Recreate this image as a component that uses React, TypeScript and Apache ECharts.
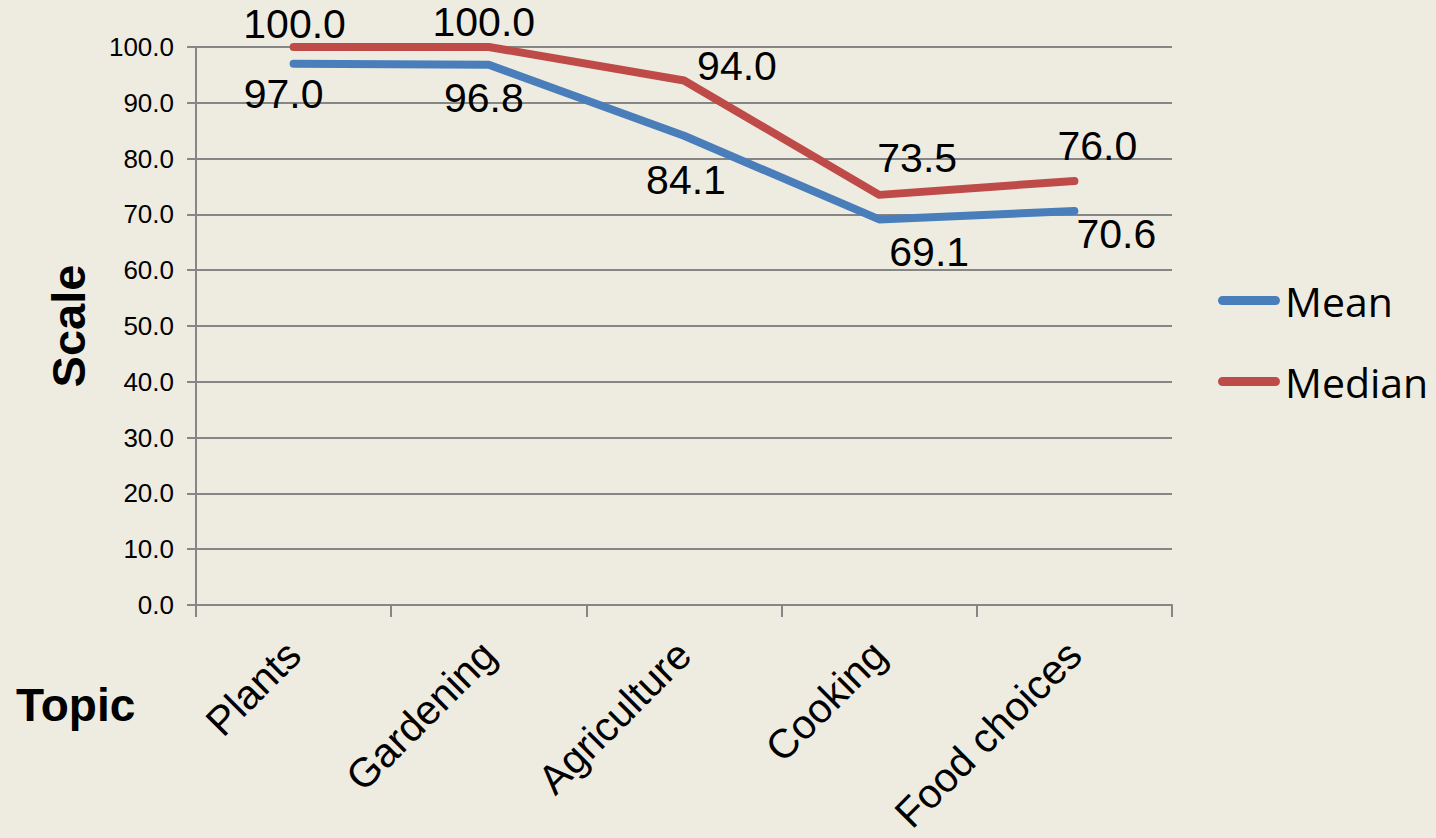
import React, { useEffect, useRef } from "react";
import * as echarts from "echarts";

const categories = ["Plants", "Gardening", "Agriculture", "Cooking", "Food choices"];
const meanValues = [97.0, 96.8, 84.1, 69.1, 70.6];
const medianValues = [100.0, 100.0, 94.0, 73.5, 76.0];

// label placement (pixel offsets from each point), kept apart from the values
const meanLabelOffsets = [[-10, 30], [-5, 33], [2, 44], [50, 33], [42, 23]];
const medianLabelOffsets = [[1, -23], [-5, -25], [53, -14], [38, -37], [23, -35]];

const BG = "#EEECE1";
const BLUE = "#4A7EBB";
const RED = "#BE4B48";
const GRID = "#868686";
const FONT = "'Liberation Sans', Arial, sans-serif";

function buildData(values: number[], offsets: number[][]) {
  return values.map((v, i) => ({
    value: v,
    label: { offset: offsets[i] },
  }));
}

export default function App() {
  const ref = useRef<HTMLDivElement>(null);
  useEffect(() => {
    if (!ref.current) return;
    const chart = echarts.init(ref.current, null, { renderer: "svg" });
    const pill = "path://M4,0 L58,0 A4.5,4.5 0 0 1 58,9 L4,9 A4.5,4.5 0 0 1 4,0 Z";
    chart.setOption({
      animation: false,
      backgroundColor: BG,
      textStyle: { fontFamily: FONT },
      grid: {
        left: 196,
        right: 264,
        top: 47,
        bottom: 233,
        outerBoundsMode: "none",
      },
      legend: {
        orient: "vertical",
        left: 1213,
        top: 275,
        itemWidth: 62,
        itemHeight: 9,
        itemGap: 40,
        selectedMode: false,
        textStyle: { fontSize: 41, lineHeight: 40, color: "#000", fontFamily: "'Open Sans', sans-serif" },
        data: [
          { name: "Mean", icon: pill, itemStyle: { color: BLUE } },
          { name: "Median", icon: pill, itemStyle: { color: RED } },
        ],
      },
      graphic: [
        {
          type: "text",
          left: 16,
          top: 682,
          style: {
            text: "Topic",
            fontSize: 46,
            fontWeight: "bold",
            fontFamily: FONT,
            fill: "#000",
          },
        },
      ],
      xAxis: {
        type: "category",
        data: categories,
        boundaryGap: true,
        axisLine: { show: true, lineStyle: { color: GRID, width: 2 } },
        axisTick: { show: true, length: 12, lineStyle: { color: GRID, width: 2 } },
        axisLabel: {
          rotate: 45,
          fontSize: 41,
          lineHeight: 30,
          color: "#000",
          margin: 43,
          fontFamily: FONT,
          interval: 0,
        },
        splitLine: { show: false },
      },
      yAxis: {
        type: "value",
        min: 0,
        max: 100,
        interval: 10,
        name: "Scale",
        nameLocation: "middle",
        nameRotate: 90,
        nameGap: 104,
        nameTextStyle: { fontSize: 47, fontWeight: "bold", color: "#000", fontFamily: FONT },
        axisLine: { show: true, lineStyle: { color: GRID, width: 2 } },
        axisTick: { show: true, length: 9, lineStyle: { color: GRID, width: 2 } },
        axisLabel: {
          fontSize: 26,
          color: "#000",
          margin: 22,
          fontFamily: FONT,
          formatter: (v: number) => v.toFixed(1),
        },
        splitLine: { show: true, lineStyle: { color: GRID, width: 2 } },
      },
      series: [
        {
          name: "Mean",
          type: "line",
          data: buildData(meanValues, meanLabelOffsets),
          symbol: "circle",
          symbolSize: 1,
          showSymbol: true,
          itemStyle: { color: BLUE },
          lineStyle: { color: BLUE, width: 8, cap: "round", join: "round" },
          label: {
            show: true,
            position: "inside",
            fontSize: 41,
            lineHeight: 32,
            color: "#000",
            fontFamily: FONT,
            formatter: (p: any) => Number(p.value).toFixed(1),
          },
          emphasis: { disabled: true },
          z: 3,
        },
        {
          name: "Median",
          type: "line",
          data: buildData(medianValues, medianLabelOffsets),
          symbol: "circle",
          symbolSize: 1,
          showSymbol: true,
          itemStyle: { color: RED },
          lineStyle: { color: RED, width: 8, cap: "round", join: "round" },
          label: {
            show: true,
            position: "inside",
            fontSize: 41,
            lineHeight: 32,
            color: "#000",
            fontFamily: FONT,
            formatter: (p: any) => Number(p.value).toFixed(1),
          },
          emphasis: { disabled: true },
          z: 3,
        },
      ],
    });
    return () => chart.dispose();
  }, []);
  return (
    <div
      ref={ref}
      style={{ position: "fixed", left: 0, top: 0, width: 1436, height: 838 }}
    />
  );
}
